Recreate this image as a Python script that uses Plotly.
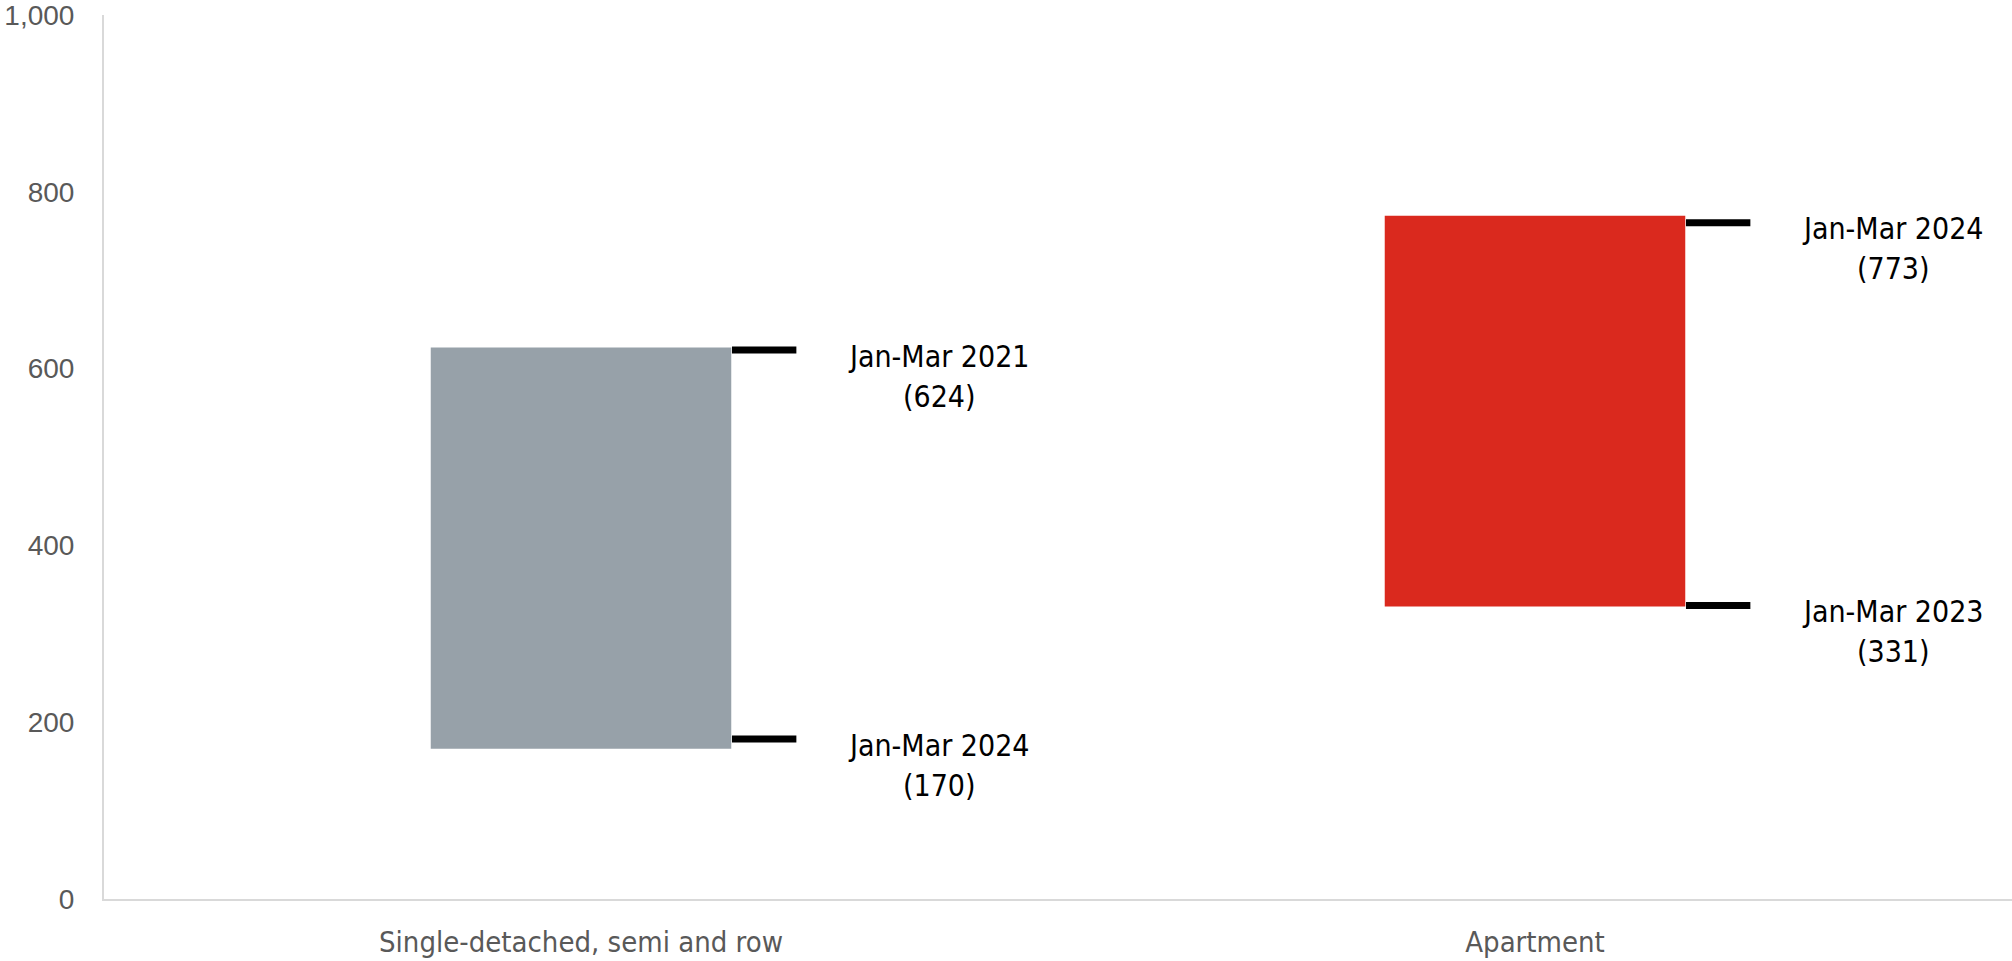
import plotly.graph_objects as go

# ---- data ----
categories = ["Single-detached, semi and row", "Apartment"]
period_a = ["Jan-Mar 2021", "Jan-Mar 2023"]
value_a = [624, 331]
period_b = ["Jan-Mar 2024", "Jan-Mar 2024"]
value_b = [170, 773]
marker_a = [621, 332]
marker_b = [181, 765]
bar_colors = ["#97A1A9", "#DA291E"]
y_ticks = [0, 200, 400, 600, 800, 1000]

# ---- style constants ----
BAR_WIDTH = 0.315
MARKER_OFFSET = 0.192
LABEL_SHIFT_PX = 358
NARROW = "Liberation Sans Narrow, Arial Narrow, DejaVu Sans Condensed, sans-serif"

xpos = list(range(len(categories)))
bases = [min(a, b) for a, b in zip(value_a, value_b)]
heights = [abs(a - b) for a, b in zip(value_a, value_b)]

fig = go.Figure()
fig.add_trace(go.Bar(
    x=xpos, y=heights, base=bases, width=BAR_WIDTH,
    marker=dict(color=bar_colors, line=dict(width=0)),
    hoverinfo="skip", showlegend=False,
))

mx = [p + MARKER_OFFSET for p in xpos] * 2
my = marker_a + marker_b
fig.add_trace(go.Scatter(
    x=mx, y=my, mode="markers",
    marker=dict(symbol="line-ew", size=46, line=dict(width=7, color="black")),
    hoverinfo="skip", showlegend=False,
))

annotations = []
for i in xpos:
    for per, val, mk in ((period_a[i], value_a[i], marker_a[i]),
                         (period_b[i], value_b[i], marker_b[i])):
        annotations.append(dict(
            x=i, y=mk, xref="x", yref="y", text=per, showarrow=False,
            xshift=LABEL_SHIFT_PX, yshift=-6, xanchor="center", yanchor="middle",
            font=dict(family=NARROW, size=30, color="black"),
        ))
        annotations.append(dict(
            x=i, y=mk, xref="x", yref="y", text=f"({val})", showarrow=False,
            xshift=LABEL_SHIFT_PX, yshift=-46, xanchor="center", yanchor="middle",
            font=dict(family=NARROW, size=30, color="black"),
        ))

fig.update_layout(
    width=2012, height=961,
    margin=dict(l=104, r=0, t=15, b=62),
    plot_bgcolor="white", paper_bgcolor="white",
    annotations=annotations,
    xaxis=dict(
        range=[-0.5, 1.5], tickmode="array", tickvals=xpos, ticktext=categories,
        showgrid=False, zeroline=False, showline=True, linecolor="#D9D9D9", linewidth=2,
        ticks="", ticklabelstandoff=16, automargin=False, ticklabeloverflow="allow",
        tickfont=dict(family=NARROW, size=29, color="#595959"),
    ),
    yaxis=dict(
        range=[0, 1000], tickmode="array", tickvals=y_ticks, tickformat=",",
        showgrid=False, zeroline=False, showline=True, linecolor="#D9D9D9", linewidth=2,
        ticks="", ticklabelstandoff=22, automargin=False, ticklabeloverflow="allow",
        tickfont=dict(family="Liberation Sans, Arial, sans-serif", size=28, color="#595959"),
    ),
)

# remove the default 8px page margin so the figure fills the window exactly
fig.write_html("out.html", config={"displayModeBar": False},
               post_script="document.body.style.margin='0';")
